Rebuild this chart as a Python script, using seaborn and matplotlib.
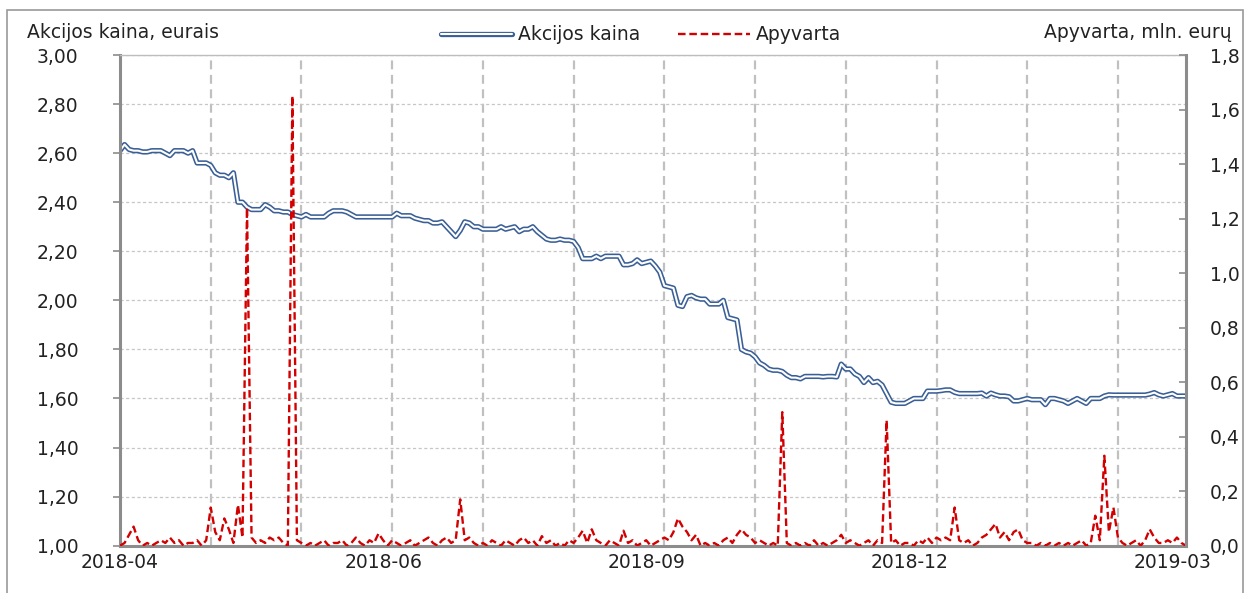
import matplotlib
matplotlib.use('Agg')
import matplotlib.pyplot as plt
import matplotlib.patheffects as pe
from matplotlib.patches import Rectangle
from matplotlib.ticker import FuncFormatter, MultipleLocator
import seaborn as sb
import numpy as np
import pandas as pd

# akcijos kaina (eurais) kiekviena prekybos diena
kaina = [2.61, 2.635, 2.615, 2.61, 2.61, 2.605, 2.605, 2.61, 2.61, 2.61,
         2.60, 2.59, 2.61, 2.61, 2.61, 2.60, 2.61, 2.56, 2.56, 2.56,
         2.55, 2.52, 2.51, 2.51, 2.50, 2.52, 2.40, 2.40, 2.38, 2.37,
         2.37, 2.37, 2.39, 2.38, 2.365, 2.365, 2.36, 2.36, 2.35, 2.345,
         2.34, 2.35, 2.34, 2.34, 2.34, 2.34, 2.355, 2.365, 2.365, 2.365,
         2.36, 2.35, 2.34, 2.34, 2.34, 2.34, 2.34, 2.34, 2.34, 2.34,
         2.34, 2.355, 2.345, 2.345, 2.345, 2.335, 2.33, 2.325, 2.325, 2.315,
         2.315, 2.32, 2.30, 2.28, 2.26, 2.285, 2.32, 2.315, 2.30, 2.30,
         2.29, 2.29, 2.29, 2.29, 2.30, 2.29, 2.295, 2.30, 2.28, 2.29,
         2.29, 2.30, 2.28, 2.265, 2.25, 2.245, 2.245, 2.25, 2.245, 2.245,
         2.24, 2.215, 2.17, 2.17, 2.17, 2.18, 2.17, 2.18, 2.18, 2.18,
         2.18, 2.145, 2.145, 2.15, 2.165, 2.15, 2.155, 2.16, 2.14, 2.115,
         2.06, 2.055, 2.05, 1.98, 1.975, 2.015, 2.02, 2.01, 2.005, 2.005,
         1.985, 1.985, 1.985, 2.00, 1.93, 1.925, 1.92, 1.80, 1.79, 1.785,
         1.77, 1.745, 1.735, 1.72, 1.715, 1.715, 1.71, 1.695, 1.685, 1.685,
         1.68, 1.69, 1.69, 1.69, 1.69, 1.688, 1.69, 1.69, 1.688, 1.74,
         1.72, 1.72, 1.70, 1.69, 1.665, 1.685, 1.665, 1.67, 1.655, 1.62,
         1.585, 1.58, 1.58, 1.58, 1.59, 1.60, 1.60, 1.60, 1.63, 1.63,
         1.63, 1.632, 1.635, 1.635, 1.625, 1.62, 1.62, 1.62, 1.62, 1.62,
         1.622, 1.61, 1.622, 1.615, 1.61, 1.61, 1.607, 1.59, 1.59, 1.595,
         1.60, 1.595, 1.595, 1.595, 1.575, 1.60, 1.60, 1.595, 1.59, 1.58,
         1.59, 1.60, 1.59, 1.58, 1.60, 1.60, 1.60, 1.61, 1.615, 1.614,
         1.614, 1.614, 1.614, 1.614, 1.614, 1.614, 1.614, 1.618, 1.624, 1.615,
         1.61, 1.615, 1.62, 1.61, 1.61, 1.61]

# apyvarta (mln. euru)
apyvarta = [0.0, 0.01, 0.04, 0.07, 0.02, 0.0, 0.01, 0.0, 0.01, 0.02,
            0.01, 0.03, 0.01, 0.02, 0.0, 0.01, 0.01, 0.02, 0.0, 0.02,
            0.14, 0.05, 0.02, 0.10, 0.06, 0.01, 0.15, 0.03, 1.24, 0.03,
            0.01, 0.02, 0.01, 0.03, 0.02, 0.03, 0.01, 0.0, 1.65, 0.02,
            0.01, 0.0, 0.01, 0.0, 0.01, 0.02, 0.0, 0.01, 0.01, 0.02,
            0.0, 0.01, 0.03, 0.01, 0.0, 0.02, 0.01, 0.045, 0.02, 0.0,
            0.02, 0.01, 0.0, 0.01, 0.02, 0.0, 0.01, 0.02, 0.03, 0.01,
            0.0, 0.02, 0.03, 0.01, 0.02, 0.17, 0.02, 0.03, 0.01, 0.0,
            0.01, 0.0, 0.02, 0.01, 0.0, 0.02, 0.01, 0.0, 0.02, 0.03,
            0.01, 0.02, 0.0, 0.035, 0.01, 0.02, 0.0, 0.01, 0.0, 0.02,
            0.01, 0.03, 0.055, 0.01, 0.06, 0.02, 0.01, 0.0, 0.02, 0.01,
            0.0, 0.055, 0.01, 0.02, 0.0, 0.01, 0.02, 0.0, 0.01, 0.02,
            0.03, 0.02, 0.05, 0.10, 0.07, 0.05, 0.02, 0.04, 0.0, 0.01,
            0.0, 0.01, 0.0, 0.02, 0.03, 0.01, 0.04, 0.06, 0.04, 0.03,
            0.01, 0.02, 0.01, 0.0, 0.01, 0.0, 0.49, 0.01, 0.0, 0.01,
            0.0, 0.01, 0.0, 0.02, 0.0, 0.01, 0.0, 0.01, 0.02, 0.04,
            0.01, 0.02, 0.01, 0.0, 0.01, 0.02, 0.0, 0.02, 0.01, 0.46,
            0.01, 0.02, 0.0, 0.01, 0.01, 0.0, 0.02, 0.01, 0.03, 0.01,
            0.03, 0.02, 0.03, 0.02, 0.14, 0.02, 0.01, 0.02, 0.0, 0.01,
            0.03, 0.04, 0.06, 0.08, 0.03, 0.05, 0.02, 0.05, 0.06, 0.02,
            0.01, 0.01, 0.0, 0.01, 0.0, 0.01, 0.0, 0.01, 0.0, 0.01,
            0.0, 0.01, 0.02, 0.0, 0.01, 0.11, 0.02, 0.33, 0.05, 0.14,
            0.03, 0.01, 0.0, 0.01, 0.02, 0.0, 0.02, 0.06, 0.03, 0.01,
            0.01, 0.02, 0.01, 0.03, 0.01, 0.0]

# x asies etiketes (prekybos dienos numeris -> menuo)
etiketes = ['2018-04', '2018-06', '2018-09', '2018-12', '2019-03']
etikeciuPoz = [0, 58, 116, 174, 232]

df = pd.DataFrame({'diena': np.arange(len(kaina)), 'kaina': kaina, 'apyvarta': apyvarta})

sb.set_style('white')
plt.rcParams['font.family'] = ['DejaVu Sans']
fs = 13.5
pilka = '#8c8c8c'
tekstas = '#222222'

fig = plt.figure(figsize=(12.5, 5.93), dpi=100)
ax = fig.add_axes([120 / 1250, 1 - 545.7 / 593, 1066 / 1250, 490.7 / 593])

# remelis aplink visa grafika
fig.patches.append(Rectangle((7 / 1250, -0.05), 1236 / 1250, 1.05 - 10 / 593,
                             transform=fig.transFigure, fill=False,
                             edgecolor='#9a9a9a', linewidth=1.2))

# dviguba melyna linija: balta vidurys su melynu apvadu
sb.lineplot(data=df, x='diena', y='kaina', ax=ax, color='white', linewidth=1.5,
            label='Akcijos kaina', legend=False,
            path_effects=[pe.Stroke(linewidth=3.8, foreground='#3a5f96'), pe.Normal()])

ax.set_xlim(0, len(kaina) - 1)
ax.set_ylim(1.0, 3.0)
ax.yaxis.set_major_locator(MultipleLocator(0.2))
ax.yaxis.set_major_formatter(FuncFormatter(lambda v, p: f'{v:.2f}'.replace('.', ',')))
ax.set_xticks(etikeciuPoz)
ax.set_xticklabels(etiketes)
ax.set_xticks(range(0, len(kaina), 20), minor=True)
ax.grid(which='major', axis='y', color='#c6c6c6', linestyle=(0, (2.5, 2)), linewidth=0.9)
ax.grid(which='minor', axis='x', color='#c0c0c0', linestyle=(0, (4, 2.5)), linewidth=1.6)
ax.set_axisbelow(True)
ax.tick_params(axis='y', which='major', direction='out', length=5, width=1.2, color=pilka,
               labelsize=fs, pad=25, labelcolor=tekstas)
ax.tick_params(axis='x', which='both', length=0, labelsize=fs, pad=5, labelcolor=tekstas)
ax.set_xlabel('')
ax.set_ylabel('')
for s in ['left', 'bottom']:
    ax.spines[s].set_color(pilka)
    ax.spines[s].set_linewidth(2.2)
ax.spines['top'].set_color('#bdbdbd')
ax.spines['top'].set_linewidth(1.0)
ax.spines['right'].set_visible(False)

ax2 = ax.twinx()
sb.lineplot(data=df, x='diena', y='apyvarta', ax=ax2, color='#d20000', linewidth=1.7,
            linestyle=(0, (3.2, 1.6)), label='Apyvarta', legend=False)
ax2.set_ylim(0, 1.8)
ax2.yaxis.set_major_locator(MultipleLocator(0.2))
ax2.yaxis.set_major_formatter(FuncFormatter(lambda v, p: f'{v:.1f}'.replace('.', ',')))
ax2.tick_params(axis='y', direction='in', length=5, width=1.2, color=pilka,
                labelsize=fs, pad=17, labelcolor=tekstas)
ax2.set_ylabel('')
ax2.spines['right'].set_color(pilka)
ax2.spines['right'].set_linewidth(2.2)
for s in ['left', 'top', 'bottom']:
    ax2.spines[s].set_visible(False)

fig.text(27 / 1250, 1 - 33 / 593, 'Akcijos kaina, eurais', fontsize=fs, ha='left', va='center',
         color=tekstas)
fig.text(1232 / 1250, 1 - 33 / 593, 'Apyvarta, mln. eurų', fontsize=fs, ha='right', va='center',
         color=tekstas)

h1, l1 = ax.get_legend_handles_labels()
h2, l2 = ax2.get_legend_handles_labels()
leg = fig.legend(h1 + h2, l1 + l2, loc='center', bbox_to_anchor=(641 / 1250, 1 - 35 / 593),
                 ncol=2, frameon=False, fontsize=fs, handlelength=3.8, handletextpad=0.35,
                 columnspacing=2.0)
for t in leg.get_texts():
    t.set_color(tekstas)

fig.savefig('out.png', dpi=100)
